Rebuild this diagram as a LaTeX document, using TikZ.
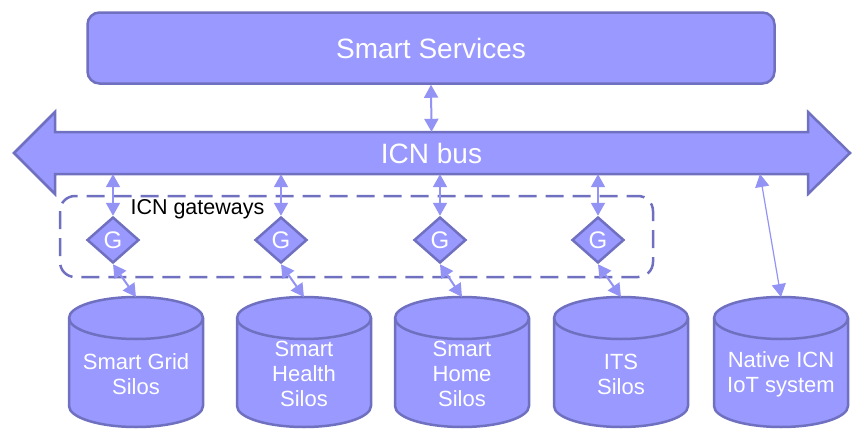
\documentclass[tikz,border=0pt]{standalone}
\usepackage{fontspec}
\setmainfont{Liberation Sans}
\usetikzlibrary{arrows.meta,shapes.geometric}
\definecolor{silofill}{HTML}{9999FF}
\definecolor{siloline}{HTML}{7070C0}
\definecolor{linkcolor}{HTML}{9393F5}

\begin{document}
\begin{tikzpicture}[x=1pt,y=1pt,
  link/.style={linkcolor,line width=2pt,{Triangle[length=13pt,width=14pt]}-{Triangle[length=13pt,width=14pt]}},
  gate/.style={diamond,draw=siloline,fill=silofill,line width=2.5pt,minimum width=52pt,minimum height=46pt,inner sep=0pt,text=white,font=\fontsize{24}{26}\selectfont},
  silotext/.style={text=white,align=center,font=\fontsize{22}{25}\selectfont}]
\useasboundingbox (0,0) rectangle (863,-439);
\node[draw=siloline,fill=silofill,line width=2.5pt,rounded corners=12pt,minimum width=687pt,minimum height=71pt,text=white,font=\fontsize{28}{30}\selectfont] (services) at (431,-48) {Smart Services};
\draw[siloline,fill=silofill,line width=2.5pt] (14,-153)--(55,-112)--(55,-132)--(808,-132)--(808,-112)--(850,-153)--(808,-194)--(808,-174)--(55,-174)--(55,-194)--cycle;
\node[minimum width=753pt,minimum height=42pt,inner sep=0pt,text=white,font=\fontsize{28}{30}\selectfont] (bus) at (431.5,-153) {ICN bus};
\draw[siloline,line width=2.5pt,dash pattern=on 18pt off 9pt,rounded corners=15pt] (60,-196) rectangle (653,-277);
\node[anchor=west,font=\fontsize{21.5}{24}\selectfont] (gwlabel) at (127,-209) {ICN gateways};
\foreach \i/\gx in {1/113,2/281,3/440,4/598}
  \node[gate] (g\i) at (\gx,-240) {G};
\foreach \i/\sx/\txt in {1/136/{Smart Grid\\Silos},2/304/{Smart\\Health\\Silos},3/462/{Smart\\Home\\Silos},4/621/{ITS\\Silos},5/781/{Native ICN\\IoT system}}{
  \draw[siloline,fill=silofill,line width=2.5pt] (\sx-67,-318) -- (\sx-67,-406) arc[start angle=180,end angle=360,x radius=67pt,y radius=21pt] -- (\sx+67,-318) arc[start angle=0,end angle=180,x radius=67pt,y radius=21pt] -- cycle;
  \draw[siloline,line width=2.5pt] (\sx-67,-318) arc[start angle=180,end angle=360,x radius=67pt,y radius=21pt];
  \coordinate (s\i) at (\sx,-297);
  \node[silotext] (t\i) at (\sx,-374) {\txt};
}
\coordinate (nport) at (760,-174);
\draw[link] (services.south) -- (bus.north);
\foreach \i in {1,...,4}
  \draw[link] (g\i.north |- bus.south) -- (g\i.north);
\foreach \i in {1,...,4}
  \draw[link] (g\i.south) -- (s\i);
\draw[link,line width=1.2pt] (nport) -- (s5);
\end{tikzpicture}
\end{document}
